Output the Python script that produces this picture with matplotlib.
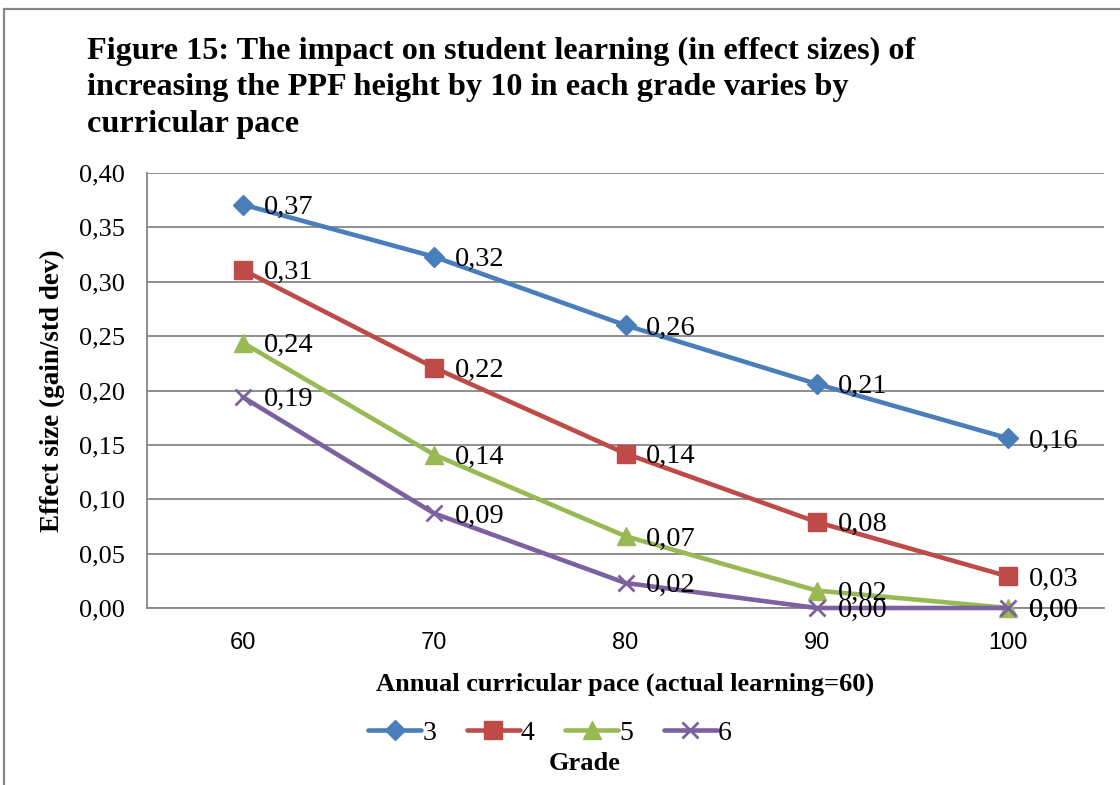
import matplotlib
matplotlib.use("Agg")
import matplotlib.pyplot as plt
from matplotlib.patches import Rectangle
from matplotlib.ticker import FuncFormatter

# datos
pace = [60, 70, 80, 90, 100]
grades = ["3", "4", "5", "6"]
grade3 = [0.371, 0.323, 0.260, 0.206, 0.156]
grade4 = [0.311, 0.221, 0.142, 0.079, 0.029]
grade5 = [0.244, 0.141, 0.066, 0.016, 0.000]
grade6 = [0.194, 0.087, 0.023, 0.000, 0.000]

series = [grade3, grade4, grade5, grade6]
colors = ["#4A7EBB", "#BE4B48", "#98B954", "#7D60A0"]
markers = ["D", "s", "^", "x"]
sizes = [10, 13, 13, 12]

serif = "Liberation Serif"
sans = "Liberation Sans"

fig = plt.figure(figsize=(11.2, 7.85), dpi=100)
ax = fig.add_axes([147 / 1120, 1 - 608 / 785, (1104 - 147) / 1120, (608 - 173) / 785])

x = list(range(len(pace)))
for vals, c, m, ms, g in zip(series, colors, markers, sizes, grades):
    ax.plot(x, vals, color=c, lw=3.3, marker=m, markersize=ms,
            markeredgewidth=2 if m == "x" else 1, markeredgecolor=c, label=g,
            solid_capstyle="round", zorder=3, clip_on=False)
    for xi, v in zip(x, vals):
        ax.annotate(f"{v:.2f}".replace(".", ","), (xi, v), xytext=(15, -2),
                    textcoords="offset points", va="center", ha="left",
                    fontsize=20.5, family=serif, zorder=4)

ax.set_xlim(-0.5, len(pace) - 0.5)
ax.set_ylim(0, 0.40)
ax.set_yticks([i * 0.05 for i in range(9)])
ax.yaxis.set_major_formatter(FuncFormatter(lambda v, p: f"{v:.2f}".replace(".", ",")))
ax.set_xticks(x)
ax.set_xticklabels([str(p) for p in pace], family=sans, fontsize=17)
for lab in ax.get_yticklabels():
    lab.set_family(serif)
    lab.set_fontsize(19)
ax.tick_params(axis="x", length=0, pad=17)
ax.tick_params(axis="y", length=0, pad=16)
ax.grid(axis="y", color="#868686", lw=1.3)
ax.set_axisbelow(True)
for s in ["top", "right"]:
    ax.spines[s].set_visible(False)
ax.spines["left"].set_color("#868686")
ax.spines["bottom"].set_color("#868686")
ax.spines["left"].set_linewidth(1.3)
ax.spines["bottom"].set_linewidth(1.3)

ax.set_xlabel("Annual curricular pace (actual learning=60)", family=serif,
              fontweight="bold", fontsize=19, labelpad=14)
ax.set_ylabel("Effect size (gain/std dev)", family=serif, fontweight="bold",
              fontsize=19.5, labelpad=10)

fig.text(87 / 1120, 1 - 37 / 785,
         "Figure 15: The impact on student learning (in effect sizes) of\n"
         "increasing the PPF height by 10 in each grade varies by\n"
         "curricular pace",
         family=serif, fontweight="bold", fontsize=23.2, va="top", ha="left",
         linespacing=1.33)

leg = fig.legend(loc="center", bbox_to_anchor=(550 / 1120, 1 - 733 / 785), ncol=4,
                 frameon=False, handlelength=1.9, handletextpad=0.05,
                 columnspacing=1.1, prop={"family": serif, "size": 20})
fig.text(585 / 1120, 1 - 763 / 785, "Grade", family=serif, fontweight="bold",
         fontsize=19, ha="center", va="center")

fig.patches.append(Rectangle((4 / 1120, -0.1), 1.2, 1 - 9 / 785 + 0.1,
                             transform=fig.transFigure, fill=False,
                             edgecolor="#868686", lw=1.6))

fig.savefig("out.png", dpi=100)
